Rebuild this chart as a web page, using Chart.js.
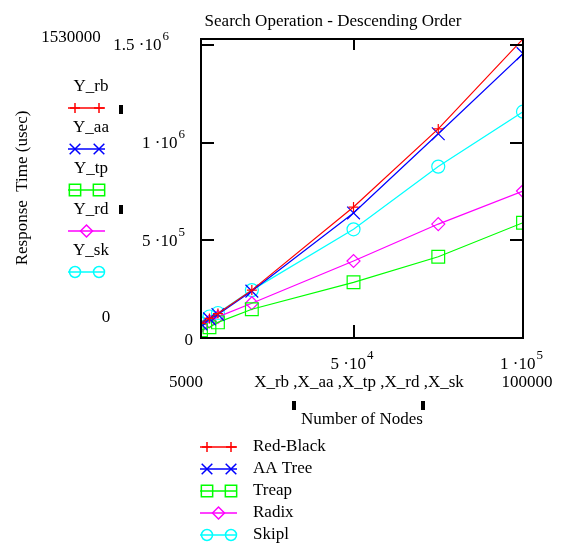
<!DOCTYPE html>
<html>
<head>
<meta charset="utf-8">
<title>Search Operation - Descending Order</title>
<script src="https://cdn.jsdelivr.net/npm/chart.js@4/dist/chart.umd.min.js"></script>
<style>
  html, body { margin: 0; padding: 0; background: #fff; }
  #wrap { width: 571px; height: 545px; }
</style>
</head>
<body>
<div id="wrap"><canvas id="chart" width="571" height="545"></canvas></div>
<script>
// number of nodes (x) and response times in usec (y)
const nodes     = [5000, 7500, 10000, 20000, 50000, 75000, 100000];
const redBlack  = [75000, 100000, 125000, 245000, 670000, 1070000, 1530000];
const aaTree    = [72000, 98000, 120000, 240000, 640000, 1045000, 1455000];
const treap     = [40000, 55000, 80000, 147000, 285000, 416000, 590000];
const radix     = [60000, 85000, 108000, 178000, 394000, 583000, 752000];
const skipList  = [75000, 110000, 128000, 245000, 556000, 877000, 1158000];

const seriesNames = ['Red-Black', 'AA Tree', 'Treap', 'Radix', 'Skipl'];
const yVarNames   = ['Y_rb', 'Y_aa', 'Y_tp', 'Y_rd', 'Y_sk'];
const xVarNames   = 'X_rb ,X_aa ,X_tp ,X_rd ,X_sk';

const xMin = 5000, xMax = 100000;
const yMin = 0, yMax = 1530000;
const xTicks = [50000, 100000];
const xTickLabels = [['5 ·10', '4'], ['1 ·10', '5']];
const yTicks = [500000, 1000000, 1500000];
const yTickLabels = [['5 ·10', '5'], ['1 ·10', '6'], ['1.5 ·10', '6']];

const FONT = '"Liberation Serif", "Times New Roman", serif';

function toPoints(ys) {
    return nodes.map((x, i) => ({ x: x, y: ys[i] }));
}

const styles = [
    { color: '#ff0000', pointStyle: 'cross',    radius: 5,   legendRadius: 5,   pair: true },
    { color: '#0000ff', pointStyle: 'crossRot', radius: 9,   legendRadius: 7.5, pair: true },
    { color: '#00ff00', pointStyle: 'rect',     radius: 9,   legendRadius: 8,   pair: true },
    { color: '#ff00ff', pointStyle: 'rectRot',  radius: 6.5, legendRadius: 6,   pair: false },
    { color: '#00ffff', pointStyle: 'circle',   radius: 6.5, legendRadius: 5.5, pair: true }
];
const seriesData = [redBlack, aaTree, treap, radix, skipList];

const datasets = seriesData.map((ys, i) => ({
    label: seriesNames[i],
    data: toPoints(ys),
    showLine: true,
    borderColor: styles[i].color,
    borderWidth: 1.2,
    pointStyle: styles[i].pointStyle,
    pointRadius: styles[i].radius,
    pointBorderColor: styles[i].color,
    pointBackgroundColor: 'rgba(0,0,0,0)',
    pointBorderWidth: 1.2,
    tension: 0
}));

function marker(ctx, style, radius, x, y) {
    ctx.save();
    ctx.strokeStyle = style.color;
    ctx.fillStyle = 'rgba(0,0,0,0)';
    ctx.lineWidth = 1.5;
    Chart.helpers.drawPoint(ctx, { pointStyle: style.pointStyle, radius: radius, rotation: 0, borderWidth: 1.5 }, x, y);
    ctx.restore();
}

function legendLine(ctx, style, x0, x1, y) {
    ctx.save();
    ctx.strokeStyle = style.color;
    ctx.lineWidth = 1.5;
    ctx.beginPath();
    ctx.moveTo(x0, y);
    ctx.lineTo(x1, y);
    ctx.stroke();
    ctx.restore();
    if (style.pair) {
        marker(ctx, style, style.legendRadius, x0 + 7, y);
        marker(ctx, style, style.legendRadius, x1 - 6, y);
    } else {
        marker(ctx, style, style.legendRadius, (x0 + x1) / 2, y);
    }
}

// mantissa ·10 with a raised exponent; align = 'right' | 'center'
function powerLabel(ctx, parts, x, y, align) {
    ctx.font = '17px ' + FONT;
    const w1 = ctx.measureText(parts[0]).width;
    ctx.font = '13px ' + FONT;
    const w2 = ctx.measureText(parts[1]).width;
    const total = w1 + w2;
    let left = align === 'right' ? x - total : x - total / 2;
    ctx.textAlign = 'left';
    ctx.textBaseline = 'middle';
    ctx.font = '17px ' + FONT;
    ctx.fillText(parts[0], left, y + 4);
    ctx.font = '13px ' + FONT;
    ctx.fillText(parts[1], left + w1 + 1, y - 5);
}

const overlay = {
    id: 'overlay',
    afterDatasetsDraw(chart) {
        const ctx = chart.ctx;
        const a = chart.chartArea;
        const xs = chart.scales.x, ys = chart.scales.y;
        ctx.save();

        // frame and inward ticks
        ctx.strokeStyle = '#000';
        ctx.lineWidth = 2;
        ctx.strokeRect(a.left, a.top, a.right - a.left, a.bottom - a.top);
        ctx.beginPath();
        yTicks.forEach(v => {
            const py = Math.round(ys.getPixelForValue(v));
            ctx.moveTo(a.left, py); ctx.lineTo(a.left + 13, py);
            ctx.moveTo(a.right, py); ctx.lineTo(a.right - 13, py);
        });
        xTicks.forEach(v => {
            const px = Math.round(xs.getPixelForValue(v));
            ctx.moveTo(px, a.top); ctx.lineTo(px, a.top + 11);
            ctx.moveTo(px, a.bottom); ctx.lineTo(px, a.bottom - 13);
        });
        ctx.stroke();

        ctx.fillStyle = '#000';

        // title
        ctx.font = '17px ' + FONT;
        ctx.textAlign = 'center';
        ctx.textBaseline = 'middle';
        ctx.fillText('Search Operation - Descending Order', 333, 22);

        // y tick labels
        yTicks.forEach((v, i) => {
            const py = ys.getPixelForValue(v);
            const right = v === yTicks[yTicks.length - 1] ? 168 : 184;
            powerLabel(ctx, yTickLabels[i], right, py - 3, 'right');
        });
        ctx.font = '17px ' + FONT;
        ctx.textAlign = 'right';
        ctx.fillText(String(yMin), 193, ys.getPixelForValue(yMin) + 3);

        // y range values
        ctx.textAlign = 'center';
        ctx.fillText(String(yMax), 71, 38);
        ctx.fillText(String(yMin), 106, 318);

        // x tick labels
        xTicks.forEach((v, i) => {
            powerLabel(ctx, xTickLabels[i], xs.getPixelForValue(v) - 2, 361, 'center');
        });
        ctx.font = '17px ' + FONT;
        ctx.textAlign = 'right';
        ctx.fillText(String(xMin), 203, 383);
        ctx.textAlign = 'center';
        ctx.fillText(String(xMax), 527, 383);
        ctx.fillText(xVarNames, 359, 383);
        ctx.fillText('Number of Nodes', 362, 420);

        // small black markers of the axis placeholders
        ctx.fillRect(292, 401, 4, 9);
        ctx.fillRect(421, 401, 4, 9);
        ctx.fillRect(119, 105, 4, 9);
        ctx.fillRect(119, 205, 4, 9);

        // y axis title
        ctx.save();
        ctx.translate(23, 188);
        ctx.rotate(-Math.PI / 2);
        ctx.textAlign = 'center';
        ctx.fillText('Response  Time (usec)', 0, 0);
        ctx.restore();

        // left legend (variable names)
        yVarNames.forEach((name, i) => {
            const top = 87 + i * 41;
            ctx.fillStyle = '#000';
            ctx.font = '17px ' + FONT;
            ctx.textAlign = 'center';
            ctx.textBaseline = 'middle';
            ctx.fillText(name, 91, top);
            legendLine(ctx, styles[i], 68, 105, top + 21);
        });

        // bottom legend
        seriesNames.forEach((name, i) => {
            const y = 447 + i * 22;
            legendLine(ctx, styles[i], 200, 237, y);
            ctx.fillStyle = '#000';
            ctx.font = '17px ' + FONT;
            ctx.textAlign = 'left';
            ctx.textBaseline = 'middle';
            ctx.fillText(name, 253, y);
        });

        ctx.restore();
    }
};

new Chart(document.getElementById('chart'), {
    type: 'scatter',
    data: { datasets: datasets },
    options: {
        responsive: false,
        animation: false,
        devicePixelRatio: 1,
        layout: { padding: { left: 201, right: 48, top: 39, bottom: 207 } },
        scales: {
            x: { type: 'linear', min: xMin, max: xMax, display: false },
            y: { type: 'linear', min: yMin, max: yMax, display: false }
        },
        plugins: {
            legend: { display: false },
            tooltip: { enabled: false },
            title: { display: false }
        }
    },
    plugins: [overlay]
});
</script>
</body>
</html>
